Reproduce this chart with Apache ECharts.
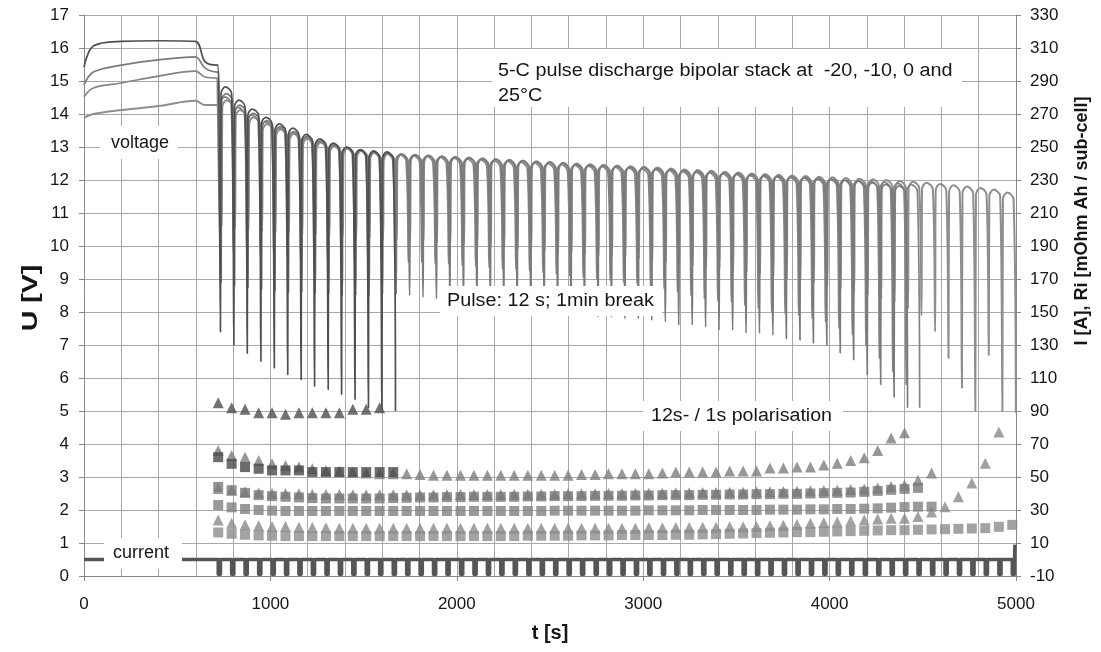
<!DOCTYPE html>
<html>
<head>
<meta charset="utf-8">
<script src="https://cdn.jsdelivr.net/npm/echarts@6/dist/echarts.min.js"></script>
<style>html,body{margin:0;background:#fff}#c{width:1101px;height:652px}</style>
</head>
<body>
<div id="c"></div>
<script>
// pulse start times [s] (12 s pulse, ~1 min break)
const pulseT = [720, 792, 864, 937, 1009, 1081, 1153, 1225, 1298, 1370,
  1442, 1514, 1586, 1659, 1731, 1803, 1875, 1947, 2020, 2092,
  2164, 2236, 2308, 2381, 2453, 2525, 2597, 2669, 2742, 2814,
  2886, 2958, 3030, 3103, 3175, 3247, 3319, 3391, 3464, 3536,
  3608, 3680, 3752, 3825, 3897, 3969, 4041, 4113, 4186, 4258,
  4330, 4402, 4474, 4547, 4619, 4691, 4763, 4835, 4908, 4980];
const PULSE_LEN = 12;   // s
const RISE_END = 15;    // s after pulse start: fast recovery done
const PEAK_AT = 38;     // s after pulse start: top of the relaxation arch
const ARCH = 0.2;       // V, sag of the arch ends below its top

// small start lag of each run against the others [s]
const LAG_M20 = 0, LAG_M10 = 4, LAG_0 = -3, LAG_25 = 7;

// rest phase before the pulses
const restT = [0, 50, 200, 400, 597, 650, 715];
const restM20 = [15.42, 16.06, 16.2, 16.22, 16.2, 15.58, 15.48];
const restM10 = [14.88, 15.27, 15.48, 15.64, 15.73, 15.39, 15.27];
const rest0 = [14.52, 14.79, 14.94, 15.15, 15.3, 15.12, 15.09];
const rest25 = [13.88, 14.0, 14.12, 14.24, 14.4, 14.27, 14.27];

// voltage at end of each pulse (min) and top of the following rest (top) [V]
const minM20 = [7.4, 7.0, 6.75, 6.5, 6.3, 6.1, 5.95, 5.75, 5.65, 5.5, 5.35, 5.1, 5.05, 5.0];
const topM20 = [14.82, 14.42, 14.15, 13.9, 13.7, 13.57, 13.38, 13.25, 13.12, 13.0, 12.92, 12.88, 12.85];

const minM10 = [8.9, 8.8, 8.75, 8.7, 8.65, 8.6, 8.6, 8.55, 8.55, 8.5,
  8.5, 8.5, 8.55, 8.55, 8.5, 8.45, 8.4, 8.35, 8.3, 8.25,
  8.2, 8.15, 8.1, 8.05, 8.0, 7.95, 7.95, 7.9, 7.85, 7.85,
  7.8, 7.8, 7.75, 7.7, 7.6, 7.6, 7.55, 7.45, 7.45, 7.36,
  7.36, 7.3, 7.2, 7.15, 7.06, 7.0, 6.76, 6.55, 6.1, 5.8,
  5.42, 5.1];
const topM10 = [14.62, 14.27, 14.02, 13.8, 13.62, 13.47, 13.32, 13.2, 13.09, 12.99,
  12.92, 12.86, 12.82, 12.79, 12.77, 12.75, 12.72, 12.7, 12.68, 12.65,
  12.63, 12.6, 12.58, 12.56, 12.53, 12.51, 12.48, 12.46, 12.44, 12.42,
  12.4, 12.38, 12.35, 12.32, 12.29, 12.27, 12.25, 12.22, 12.2, 12.17,
  12.14, 12.12, 12.1, 12.08, 12.05, 12.03, 12.0, 11.97, 11.92, 11.87,
  11.82];

const min0 = [9.9, 9.85, 9.8, 9.75, 9.7, 9.7, 9.65, 9.65, 9.6, 9.6,
  9.6, 9.55, 9.55, 9.5, 9.5, 9.5, 9.45, 9.45, 9.4, 9.4,
  9.35, 9.3, 9.3, 9.25, 9.2, 9.15, 9.1, 9.05, 9.0, 8.95,
  8.9, 8.85, 8.8, 8.7, 8.6, 8.5, 8.4, 8.35, 8.3, 8.2,
  8.1, 8.0, 7.95, 7.9, 7.8, 7.7, 7.5, 7.3, 7.0, 6.6,
  6.2, 5.8, 5.1];
const top0 = [14.52, 14.2, 13.97, 13.76, 13.58, 13.44, 13.29, 13.17, 13.06, 12.97,
  12.9, 12.84, 12.8, 12.77, 12.74, 12.72, 12.69, 12.67, 12.64, 12.62,
  12.59, 12.57, 12.54, 12.52, 12.5, 12.47, 12.45, 12.43, 12.41, 12.39,
  12.37, 12.34, 12.32, 12.29, 12.26, 12.24, 12.22, 12.19, 12.17, 12.14,
  12.12, 12.1, 12.08, 12.06, 12.04, 12.02, 12.0, 11.98, 11.96, 11.94,
  11.9, 11.86];

const min25 = [10.6, 10.55, 10.5, 10.45, 10.4, 10.4, 10.35, 10.35, 10.3, 10.3,
  10.25, 10.25, 10.2, 10.2, 10.15, 10.15, 10.1, 10.1, 10.05, 10.0,
  10.0, 9.95, 9.9, 9.9, 9.85, 9.8, 9.8, 9.75, 9.7, 9.7,
  9.65, 9.6, 9.55, 9.5, 9.45, 9.4, 9.35, 9.3, 9.25, 9.2,
  9.15, 9.1, 9.0, 8.95, 8.9, 8.8, 8.7, 8.6, 8.5, 8.4,
  8.3, 8.1, 7.9, 7.4, 6.6, 5.7, 5.0, 6.7, 5.0, 4.95];
const top25 = [14.42, 14.12, 13.9, 13.7, 13.54, 13.4, 13.26, 13.14, 13.04, 12.96,
  12.89, 12.84, 12.8, 12.78, 12.76, 12.74, 12.72, 12.7, 12.68, 12.66,
  12.63, 12.61, 12.59, 12.57, 12.55, 12.52, 12.5, 12.48, 12.46, 12.44,
  12.42, 12.4, 12.38, 12.35, 12.32, 12.3, 12.28, 12.25, 12.23, 12.2,
  12.18, 12.16, 12.14, 12.12, 12.1, 12.08, 12.06, 12.04, 12.02, 12.0,
  11.97, 11.95, 11.92, 11.88, 11.84, 11.8, 11.76, 11.71, 11.62];

// current [A] (right axis)
const I_REST = 0;
const I_PULSE = -9;
const I_END = 9;
const I_END_T = 4994;

// 12 s polarisation (triangles) and 1 s polarisation (squares) [mOhm Ah], right axis
const triM20 = [95, 92, 91, 89, 89, 88, 89, 89, 89, 89, 91, 91, 92];
const sqM20 = [62, 58, 56, 55, 54, 54, 54, 53, 53, 53, 53, 53, 53, 53];
const triM10 = [66, 63, 62, 60, 58, 57, 56, 55, 54, 53.5,
  53, 52.5, 52, 52, 52, 51.5, 51, 51, 51, 51,
  51, 51, 51, 51, 51, 51, 51, 51.5, 51.5, 52,
  52, 52, 52, 52.4, 53, 53, 53, 53, 53.6, 53.6,
  53.6, 55.4, 55.4, 56, 56, 57.2, 58.4, 60, 61.6, 66,
  73.6, 76.8];
const sqM10 = [44, 42, 40.4, 39, 38.4, 38, 37.6, 37.2, 37, 37,
  37, 37, 37, 37.2, 37.4, 37.6, 37.6, 37.8, 37.8, 38,
  38, 38, 38, 38.2, 38.2, 38.4, 38.4, 38.4, 38.6, 38.6,
  38.6, 38.8, 38.8, 39, 39, 39, 39.2, 39.2, 39.4, 39.4,
  39.6, 39.6, 39.8, 39.8, 40, 40.2, 40.4, 40.6, 41, 41.6,
  42.2, 42.8, 43.4];
const tri0 = [43, 42, 41, 40.5, 40, 40, 39.8, 39.6, 39.4, 39.4,
  39.2, 39.2, 39.2, 39.2, 39.2, 39.2, 39.2, 39.4, 39.4, 39.4,
  39.4, 39.4, 39.6, 39.6, 39.6, 39.6, 39.8, 39.8, 39.8, 40,
  40, 40, 40.2, 40.2, 40.4, 40.4, 40.6, 40.6, 40.8, 40.8,
  41, 41, 41.2, 41.4, 41.6, 41.8, 42, 42.4, 42.8, 43.4,
  44.2, 45.2, 48, 52.4];
const sq0 = [33, 31.6, 30.6, 30, 29.6, 29.4, 29.4, 29.4, 29.4, 29.4,
  29.4, 29.4, 29.4, 29.4, 29.4, 29.4, 29.4, 29.4, 29.4, 29.4,
  29.4, 29.4, 29.4, 29.4, 29.4, 29.6, 29.6, 29.6, 29.6, 29.6,
  29.6, 29.6, 29.8, 29.8, 29.8, 29.8, 30, 30, 30, 30,
  30, 30.2, 30.2, 30.2, 30.4, 30.4, 30.6, 30.6, 30.8, 31,
  31.4, 31.8, 32, 32];
const tri25 = [24, 22, 21, 20.4, 20, 20, 19.6, 19.4, 19.2, 19,
  19, 19, 19, 19, 19, 19, 19, 19, 19, 19,
  19, 19, 19, 19, 19, 19, 19, 19, 19, 19,
  19, 19, 19.2, 19.2, 19.4, 19.4, 19.6, 19.6, 19.8, 19.8,
  20, 20.4, 20.8, 21.2, 22, 22.4, 22.8, 23.4, 24, 24.6,
  25, 25, 26, 28.8, 32, 38, 46.4, 58.4, 77.2];
const sq25 = [16.4, 15.6, 15, 14.6, 14.4, 14.2, 14.2, 14.2, 14.2, 14.2,
  14.2, 14.2, 14.2, 14.2, 14.2, 14.2, 14.2, 14.2, 14.2, 14.2,
  14.2, 14.2, 14.2, 14.4, 14.4, 14.4, 14.4, 14.6, 14.6, 14.6,
  14.8, 14.8, 14.8, 14.8, 15, 15, 15.2, 15.4, 15.6, 15.8,
  16, 16.2, 16.4, 16.6, 16.6, 16.8, 17, 17.2, 17.4, 17.6,
  17.8, 17.8, 18, 18.2, 18.4, 18.6, 18.8, 19, 19.8, 21];

const FONT = '"Liberation Sans", Arial, sans-serif';
const TXT = '#161616';
const GRIDC = '#a9a9a9';

// rest curve, then for every pulse: drop to min, recover into an arch whose top is tops[i]
function voltage(rest, tops, mins, lag) {
  const pts = restT.map((t, i) => [t, rest[i]]);
  let prev = rest[rest.length - 1];
  mins.forEach((m, i) => {
    const t = pulseT[i] + lag;
    pts.push([t, prev], [t + PULSE_LEN, m]);
    if (i < tops.length) {
      pts.push([t + RISE_END, tops[i] - ARCH], [t + PEAK_AT, tops[i]]);
      prev = tops[i] - ARCH;
    }
  });
  return pts;
}

function current() {
  const pts = [[0, I_REST]];
  pulseT.forEach((t) => {
    pts.push([t, I_REST], [t, I_PULSE], [t + PULSE_LEN, I_PULSE], [t + PULSE_LEN, I_REST]);
  });
  pts.push([I_END_T, I_REST], [I_END_T, I_END]);
  return pts;
}

const atPulses = (vals) => vals.map((v, i) => [pulseT[i], v]);

function vLine(name, data, color, width) {
  return {
    name, type: 'line', data, yAxisIndex: 0, showSymbol: false, smooth: 0.35,
    lineStyle: { color, width }, silent: true,
  };
}
function marks(name, data, symbol, size, color) {
  return {
    name, type: 'scatter', data: atPulses(data), yAxisIndex: 1,
    symbol, symbolSize: size, itemStyle: { color }, silent: true,
  };
}

// white box with a text over the plot
function note(x, y, w, h, text, tx, ty, stretch) {
  return [
    { type: 'rect', z: 100, shape: { x, y, width: w, height: h }, style: { fill: '#fff' } },
    { type: 'text', z: 101, x: tx, y: ty, scaleX: stretch,
      style: { text, font: '18px ' + FONT, fill: TXT, lineHeight: 25,
        textVerticalAlign: 'middle', verticalAlign: 'middle' } },
  ];
}
function axisName(text, x, y, size, stretch) {
  return { type: 'text', z: 101, x, y, rotation: Math.PI / 2, scaleX: stretch,
    style: { text, font: 'bold ' + size + 'px ' + FONT, fill: TXT,
      textAlign: 'center', align: 'center', textVerticalAlign: 'middle', verticalAlign: 'middle' } };
}

const chart = echarts.init(document.getElementById('c'));
chart.setOption({
  backgroundColor: '#fff',
  animation: false,
  grid: { left: 84, right: 85, top: 15, bottom: 76 },
  xAxis: {
    type: 'value', min: 0, max: 5000, interval: 1000,
    name: 't [s]', nameLocation: 'middle', nameGap: 47,
    nameTextStyle: { fontFamily: FONT, fontWeight: 'bold', fontSize: 20, color: TXT },
    axisLine: { lineStyle: { color: '#888' } },
    axisTick: { length: 5, lineStyle: { color: '#888' } },
    minorTick: { show: false, splitNumber: 5 },
    splitLine: { lineStyle: { color: GRIDC } },
    minorSplitLine: { show: true, lineStyle: { color: GRIDC } },
    axisLabel: { margin: 20, fontFamily: FONT, fontSize: 17, color: TXT, formatter: (v) => String(v) },
  },
  yAxis: [{
    type: 'value', min: 0, max: 17, interval: 1, position: 'left',
    axisLine: { show: true, lineStyle: { color: '#888' } },
    axisTick: { show: true, length: 5, lineStyle: { color: '#888' } },
    splitLine: { lineStyle: { color: GRIDC } },
    axisLabel: { margin: 15, fontFamily: FONT, fontSize: 17, color: TXT },
  }, {
    type: 'value', min: -10, max: 330, interval: 20, position: 'right',
    axisLine: { show: true, lineStyle: { color: '#888' } },
    axisTick: { show: true, length: 5, lineStyle: { color: '#888' } },
    splitLine: { show: false },
    axisLabel: { margin: 14, fontFamily: FONT, fontSize: 17, color: TXT },
  }],
  graphic: [
    ...note(100, 126, 78, 33, 'voltage', 111, 143, 1),
    ...note(492, 49, 470, 58, '5-C pulse discharge bipolar stack at  -20, -10, 0 and\n25°C', 498, 84, 1.1),
    ...note(440, 286, 222, 30, 'Pulse: 12 s; 1min break', 447, 301, 1.1),
    ...note(643, 401, 200, 30, '12s- / 1s polarisation', 651, 416, 1.09),
    ...note(104, 538, 78, 31, 'current', 113, 553, 1),
    axisName('U [V]', 31, 298, 22, 1.3),
    axisName('I [A], Ri [mOhm Ah / sub-cell]', 1082, 221, 18, 1),
  ],
  series: [
    vLine('25 °C', voltage(rest25, top25, min25, LAG_25), '#8e8e8e', 2),
    vLine('0 °C', voltage(rest0, top0, min0, LAG_0), '#848484', 1.7),
    vLine('-10 °C', voltage(restM10, topM10, minM10, LAG_M10), '#7a7a7a', 1.7),
    vLine('-20 °C', voltage(restM20, topM20, minM20, LAG_M20), '#4f4f4f', 1.7),
    { name: 'current', type: 'line', data: current(), yAxisIndex: 1, showSymbol: false,
      lineStyle: { color: '#555', width: 3.5, join: 'round' }, silent: true },
    marks('12 s, 25 °C', tri25, 'triangle', 11, '#8a8a8a'),
    marks('1 s, 25 °C', sq25, 'rect', 10, '#8c8c8c'),
    marks('12 s, 0 °C', tri0, 'triangle', 11, '#808080'),
    marks('1 s, 0 °C', sq0, 'rect', 10, '#818181'),
    marks('12 s, -10 °C', triM10, 'triangle', 11, '#7d7d7d'),
    marks('1 s, -10 °C', sqM10, 'rect', 10, '#787878'),
    marks('12 s, -20 °C', triM20, 'triangle', 11, '#4e4e4e'),
    marks('1 s, -20 °C', sqM20, 'rect', 10, '#484848'),
  ],
});
</script>
</body>
</html>
